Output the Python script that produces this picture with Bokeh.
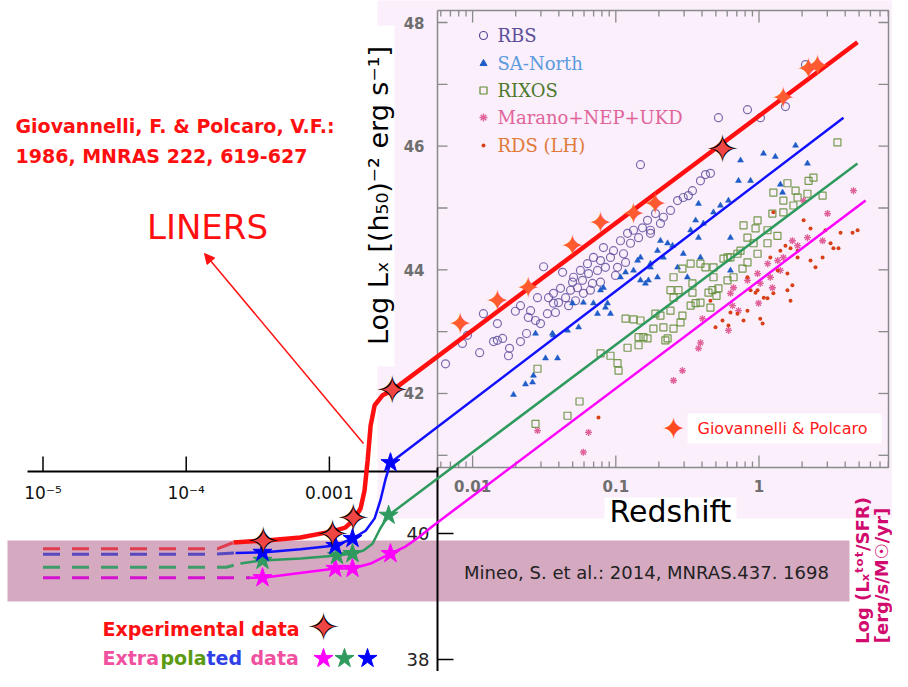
import math
from bokeh.plotting import figure
from bokeh.models import Range1d, Arrow, NormalHead
from bokeh.core.properties import value
from bokeh.embed import file_html
from bokeh.resources import INLINE

# ---------------- data (redshift, log Lx) ----------------
rbs_points = [
    (0.00647, 42.48), (0.00849, 42.81), (0.0112, 42.66), (0.0119, 43.29), (0.0149, 43.13),
    (0.0140, 42.84), (0.0162, 42.89), (0.0181, 42.73), (0.0178, 42.61), (0.0216, 43.42),
    (0.0199, 43.33), (0.0216, 42.84), (0.0238, 42.97), (0.0245, 43.23), (0.0254, 43.34),
    (0.0275, 43.18), (0.0284, 43.55), (0.0313, 44.05), (0.0298, 43.13), (0.0333, 43.29),
    (0.0339, 43.55), (0.0367, 43.62), (0.0367, 43.46), (0.0398, 43.47), (0.0411, 43.70),
    (0.0425, 43.96), (0.0446, 43.55), (0.0483, 43.67), (0.0499, 43.80), (0.0507, 43.88),
    (0.0540, 43.71), (0.0566, 43.99), (0.0585, 43.83), (0.0594, 43.62), (0.0634, 44.10),
    (0.0645, 43.94), (0.0687, 43.78), (0.0698, 44.20), (0.0745, 43.99), (0.0782, 44.15),
    (0.0820, 44.36), (0.0847, 44.04), (0.0918, 44.20), (0.0964, 44.31), (0.1028, 44.04),
    (0.1078, 44.47), (0.1132, 44.26), (0.1208, 44.59), (0.1267, 44.43), (0.1330, 44.64),
    (0.1442, 44.52), (0.1535, 44.68), (0.1665, 44.80), (0.1746, 44.59), (0.1892, 44.91),
    (0.0149, 42.86), (0.521, 46.46), (0.831, 46.59), (1.024, 46.46), (2.11, 47.32),
    (1.53, 46.64), (0.1487, 45.70), (0.390, 45.44), (0.423, 45.54), (0.343, 45.28),
    (0.296, 45.17), (0.270, 45.12), (0.241, 44.96), (0.215, 44.85), (0.205, 44.75),
    (0.458, 45.56), (0.321, 45.20), (0.1746, 44.64), (0.0379, 43.31), (0.0468, 43.42),
    (0.0523, 43.50), (0.0665, 43.67), (0.0782, 43.80), (0.0995, 43.91), (0.117, 44.12),
    (0.0092, 42.94),
]
sa_north_points = [
    (0.0193, 41.98), (0.0234, 42.15), (0.0262, 42.18), (0.0266, 42.29), (0.0323, 42.57),
    (0.0392, 42.57), (0.0361, 42.97), (0.0275, 42.97), (0.0367, 42.94), (0.0460, 43.02),
    (0.0499, 43.46), (0.0550, 43.07), (0.0698, 43.46), (0.0745, 43.29), (0.0820, 43.71),
    (0.0875, 43.46), (0.0918, 43.29), (0.1078, 43.88), (0.117, 43.96), (0.133, 43.99),
    (0.1487, 44.20), (0.169, 43.83), (0.1487, 43.83), (0.1955, 44.31), (0.230, 44.43),
    (0.1746, 44.10), (0.1955, 43.88), (0.161, 43.78), (0.205, 44.47), (0.215, 44.20),
    (0.249, 44.39), (0.270, 44.04), (0.296, 44.26), (0.316, 43.88), (0.333, 44.64),
    (0.361, 44.80), (0.378, 45.07), (0.390, 44.20), (0.378, 44.52), (0.409, 44.75),
    (0.481, 44.93), (0.538, 45.04), (0.612, 45.12), (0.632, 44.52), (0.632, 43.99),
    (0.743, 45.77), (0.873, 45.44), (1.075, 45.88), (1.30, 45.83), (1.46, 45.25),
    (1.80, 46.01), (2.18, 45.72), (1.41, 45.38), (0.719, 45.44), (0.0847, 43.39),
    (0.0594, 43.47), (0.0782, 43.67), (0.142, 44.15), (0.1746, 44.04),
]
rixos_points = [
    (0.0275, 41.51), (0.0460, 41.64), (0.0558, 41.87), (0.0284, 42.40), (0.0782, 42.65),
    (0.0918, 42.61), (0.1028, 42.49), (0.1045, 42.37), (0.1208, 42.74), (0.1442, 42.78),
    (0.117, 43.21), (0.133, 43.20), (0.1487, 43.18), (0.1442, 42.91), (0.1665, 42.89),
    (0.183, 43.05), (0.215, 43.07), (0.253, 43.05), (0.283, 43.15), (0.230, 42.89),
    (0.205, 43.26), (0.241, 43.34), (0.292, 43.26), (0.333, 43.42), (0.390, 43.47),
    (0.444, 43.63), (0.458, 43.39), (0.521, 43.70), (0.603, 43.83), (0.664, 43.88),
    (0.767, 44.02), (0.831, 44.12), (0.977, 44.26), (1.146, 44.43), (1.346, 44.55),
    (0.241, 43.67), (0.274, 43.67), (0.343, 43.63), (0.423, 44.04), (0.481, 43.88),
    (0.603, 44.20), (0.390, 44.10), (0.743, 44.31), (0.916, 44.43), (0.253, 43.88),
    (3.53, 46.06), (2.40, 45.49), (2.22, 45.44), (1.80, 45.28), (1.58, 45.40),
    (1.26, 45.25), (1.48, 45.12), (1.86, 45.17), (2.18, 45.23), (2.78, 45.20),
    (1.24, 44.91), (1.48, 44.93), (1.74, 45.04), (0.977, 44.80), (0.780, 44.72),
    (0.946, 44.67), (1.146, 44.64), (0.831, 44.52), (0.632, 44.20), (0.565, 44.18),
    (0.708, 44.26), (0.481, 44.04), (0.333, 44.10), (0.292, 44.02), (0.343, 43.78),
    (0.253, 43.55), (0.473, 43.67), (0.189, 43.29), (0.361, 43.46), (0.505, 43.58),
    (0.156, 42.91), (0.222, 42.86),
]
marano_points = [
    (4.57, 45.28), (3.01, 44.91), (2.78, 44.47), (2.05, 45.12), (1.71, 44.47),
    (1.86, 44.39), (1.48, 44.20), (1.35, 44.15), (1.15, 44.10), (0.977, 43.94),
    (0.831, 43.83), (1.41, 43.99), (1.20, 43.88), (1.02, 43.78), (0.664, 43.71),
    (0.632, 43.62), (2.18, 44.52), (1.24, 43.71), (0.993, 43.46), (0.653, 43.42),
    (0.719, 43.34), (0.612, 43.02), (0.390, 42.82), (0.378, 42.73), (0.403, 43.21),
    (0.292, 42.37), (0.253, 42.21), (0.0284, 41.40), (0.0645, 41.37), (0.0594, 41.05),
]
rds_points = [
    (4.88, 44.64), (3.71, 44.60), (3.16, 44.43), (3.59, 44.35), (2.91, 44.64),
    (2.29, 44.67), (2.05, 44.80), (1.26, 44.93), (1.53, 44.39), (1.66, 44.35),
    (1.86, 44.31), (1.41, 44.31), (1.20, 44.20), (1.35, 43.99), (1.58, 43.94),
    (2.48, 44.04), (0.831, 43.88), (0.977, 43.67), (1.08, 43.55), (1.26, 43.62),
    (1.71, 43.75), (1.58, 43.67), (1.66, 43.50), (0.946, 43.63), (1.146, 43.54),
    (0.831, 43.34), (0.708, 43.29), (0.632, 43.31), (0.556, 43.18), (0.497, 43.07),
    (0.612, 43.10), (0.780, 43.18), (1.02, 43.21), (1.06, 43.13), (0.458, 43.50),
    (0.0757, 41.61), (2.29, 44.15), (2.78, 44.20), (3.31, 44.35), (4.50, 44.60),
    (0.873, 43.67), (1.86, 44.20),
]
giovannelli_points = [
    (0.00822, 43.13), (0.01493, 43.50), (0.02449, 43.71), (0.04989, 44.39), (0.0782, 44.77),
    (0.133, 44.91), (0.189, 45.07), (1.48, 46.79), (2.22, 47.26), (2.56, 47.30),
]
experimental_points = [(3.45e-4, 39.62), (1.05e-3, 39.735), (1.47e-3, 39.98), (2.75e-3, 42.05), (0.556, 45.96)]
extrap_blue = [(3.41e-4, 39.43), (1.10e-3, 39.54), (1.45e-3, 39.655), (2.67e-3, 40.88)]
extrap_green = [(3.41e-4, 39.30), (1.13e-3, 39.38), (1.45e-3, 39.41), (2.59e-3, 40.03)]
extrap_magenta = [(3.41e-4, 39.02), (1.10e-3, 39.17), (1.45e-3, 39.17), (2.67e-3, 39.41)]

red_curve = [(2.14e-4, 39.59), (3.45e-4, 39.62), (6.28e-4, 39.67), (1.05e-3, 39.77), (1.29e-3, 39.83),
             (1.47e-3, 39.95), (1.65e-3, 40.14), (1.76e-3, 40.43), (1.85e-3, 40.92), (1.94e-3, 41.48),
             (2.07e-3, 41.81), (2.35e-3, 41.97), (2.75e-3, 42.05), (4.87, 47.68)]
blue_curve = [(2.21e-4, 39.42), (3.41e-4, 39.43), (6.28e-4, 39.48), (1.10e-3, 39.54), (1.45e-3, 39.655),
              (1.79e-3, 39.78), (2.07e-3, 39.98), (2.27e-3, 40.27), (2.47e-3, 40.62), (2.67e-3, 40.88),
              (3.89, 46.46)]
green_curve = [(2.39e-4, 39.25), (3.41e-4, 39.30), (6.28e-4, 39.33), (1.13e-3, 39.38), (1.45e-3, 39.41),
               (1.73e-3, 39.46), (2.00e-3, 39.57), (2.27e-3, 39.82), (2.59e-3, 40.03), (4.87, 45.72)]
magenta_curve = [(2.81e-4, 39.02), (3.41e-4, 39.02), (1.10e-3, 39.17), (1.45e-3, 39.17), (1.94e-3, 39.25),
                 (2.67e-3, 39.41), (3.40e-3, 39.525), (4.19e-3, 39.67), (5.33e-3, 39.865), (5.55, 45.12)]
red_dash = [(1.0e-5, 39.49), (1.66e-4, 39.49), (2.14e-4, 39.59)]
blue_dash = [(1.0e-5, 39.40), (1.59e-4, 39.40), (2.21e-4, 39.42)]
green_dash = [(1.0e-5, 39.19), (1.9e-4, 39.19), (2.39e-4, 39.25)]
magenta_dash = [(1.0e-5, 39.02), (2.81e-4, 39.02)]

upper_y_ticks = [48, 46, 44, 42]
upper_x_ticks = [0.01, 0.1, 1]
upper_x_labels = ["0.01", "0.1", "1"]
lower_x_ticks = [1e-5, 1e-4, 1e-3]
lower_x_labels = ["10\u207b\u2075", "10\u207b\u2074", "0.001"]
lower_y_ticks = [40, 38]

# ---------------- geometry helpers (reference pixel -> data) ----------------
W, H = 892, 671
PX_Z1, PX_PER_DEC = 758.5, 143.2
PY_48, PY_PER_UNIT = 22.0, 61.83


def X(px):
    return 10 ** ((px - PX_Z1) / PX_PER_DEC)


def Y(py):
    return 48.0 - (py - PY_48) / PY_PER_UNIT


Y40, Y38 = Y(533), Y(659)


def Ylow(v):
    return Y40 + (v - 40) * (Y40 - Y38) / 2.0


def xs(pts):
    return [a for a, b in pts]


def ys(pts):
    return [b for a, b in pts]


p = figure(width=W, height=H, x_axis_type="log",
           x_range=Range1d(X(0), X(W)), y_range=Range1d(Y(H), Y(0)),
           x_axis_location=None, y_axis_location=None, toolbar_location=None,
           output_backend="svg", min_border=0, outline_line_color=None,
           background_fill_color="white", border_fill_color="white")
p.grid.visible = False


def box(x0, x1, y0, y1, color):
    p.quad(left=X(x0), right=X(x1), top=Y(y0), bottom=Y(y1), fill_color=color, line_color=None)


def label(px, py, s, size, color, align="left", bold=False, font="DejaVu Sans", angle=0.0, alpha=1.0):
    p.text(x=[X(px)], y=[Y(py)], text=[s], text_font=value(font), text_font_size=f"{size}px",
           text_color=color, text_align=align, text_baseline="middle",
           text_font_style="bold" if bold else "normal", angle=angle, text_alpha=alpha)


# backgrounds
box(377, 905, -10, 518, "#faeffa")
box(363, 394, 25, 366, "white")
box(7, 849, 540, 601, "#d5a9c0")
box(604, 736, 497, 525, "white")
box(687, 881, 413, 443, "white")

# upper (scanned) frame with ticks
fx0, fx1, fy0, fy1 = X(437), X(888), Y(467), Y(10)
GRAY = "#8a8a8a"
p.multi_line([[fx0, fx1, fx1, fx0, fx0]], [[fy1, fy1, fy0, fy0, fy1]], line_color=GRAY, line_width=1.5)
minor_x = [k * 10 ** d for d in (-3, -2, -1, 0) for k in range(2, 10) if fx0 < k * 10 ** d < fx1]
for vals, ln in ((minor_x, 6), (upper_x_ticks, 12)):
    dy = ln / PY_PER_UNIT
    p.segment(x0=vals, y0=[fy1] * len(vals), x1=vals, y1=[fy1 - dy] * len(vals), line_color=GRAY, line_width=1.3)
    p.segment(x0=vals, y0=[fy0] * len(vals), x1=vals, y1=[fy0 + dy] * len(vals), line_color=GRAY, line_width=1.3)
y_int = list(range(41, 49))
kx = 10 ** (10 / PX_PER_DEC)
p.segment(x0=[fx0] * len(y_int), y0=y_int, x1=[fx0 * kx] * len(y_int), y1=y_int, line_color=GRAY, line_width=1.3)
p.segment(x0=[fx1] * len(y_int), y0=y_int, x1=[fx1 / kx] * len(y_int), y1=y_int, line_color=GRAY, line_width=1.3)
p.text(x=[X(424)] * 4, y=upper_y_ticks, text=[str(v) for v in upper_y_ticks], text_font=value("DejaVu Sans"),
       text_font_size="15px", text_font_style="bold", text_color="#6e6e6e", text_align="right", text_baseline="middle")
p.text(x=upper_x_ticks, y=[Y(485)] * 3, text=upper_x_labels, text_font=value("DejaVu Sans"),
       text_font_size="15px", text_font_style="bold", text_color="#6e6e6e", text_align="center", text_baseline="middle")

# lower (hand drawn) axes
AX = "black"
p.line([X(27), X(437)], [Y(471), Y(471)], line_color=AX, line_width=2)
p.line([X(437), X(437)], [Y(467), Y(700)], line_color=AX, line_width=2)
p.segment(x0=lower_x_ticks, y0=[Y(471)] * 3, x1=lower_x_ticks, y1=[Y(456)] * 3, line_color=AX, line_width=1.5)
ly = [Ylow(v) for v in lower_y_ticks]
p.segment(x0=[X(437)] * 2, y0=ly, x1=[X(453)] * 2, y1=ly, line_color=AX, line_width=1.5)
p.text(x=lower_x_ticks, y=[Y(492)] * 3, text=lower_x_labels, text_font=value("DejaVu Sans"),
       text_font_size="17px", text_color="#111111", text_align="center", text_baseline="middle")
p.text(x=[X(429)] * 2, y=ly, text=[str(v) for v in lower_y_ticks], text_font=value("DejaVu Sans"),
       text_font_size="18px", text_color="#222222", text_align="right", text_baseline="middle")

# scatter samples
p.scatter(xs(rbs_points), ys(rbs_points), marker="circle", size=8, fill_color=None,
          line_color="#5a4a9c", line_alpha=0.8, line_width=1.2)
p.scatter(xs(sa_north_points), ys(sa_north_points), marker="triangle", size=6,
          fill_color="#1f5cc8", line_color="#1f5cc8", line_width=0.5)
p.scatter(xs(rixos_points), ys(rixos_points), marker="square", size=7, fill_color=None,
          line_color="#5e8c32", line_alpha=0.85, line_width=1.2)
p.scatter(xs(marano_points), ys(marano_points), marker="asterisk", size=7,
          line_color="#e0609a", line_width=1.3)
p.scatter(xs(rds_points), ys(rds_points), marker="circle", size=4,
          fill_color="#d8401a", line_color=None)

# dashed extrapolations
for pts, col in ((red_dash, "#e03040"), (blue_dash, "#4a3ec0"), (green_dash, "#2e9a5e"), (magenta_dash, "#d400d4")):
    p.line(xs(pts), ys(pts), line_color=col, line_width=3, line_dash="17 12", line_alpha=0.9)

# model curves
p.line(xs(magenta_curve), ys(magenta_curve), line_color="#ff00ff", line_width=2.5)
p.line(xs(green_curve), ys(green_curve), line_color="#2e9a5e", line_width=2.5)
p.line(xs(blue_curve), ys(blue_curve), line_color="#1010ff", line_width=2.5)
p.line(xs(red_curve), ys(red_curve), line_color="#ff1010", line_width=4.5)

# stars
STAR4 = "\u2726"
p.text(x=xs(giovannelli_points), y=ys(giovannelli_points), text=[STAR4] * len(giovannelli_points),
       text_font=value("DejaVu Sans"), text_font_size="30px", text_color="#ff5a30",
       text_align="center", text_baseline="middle")
for pts, col in ((extrap_magenta, "#ff00ff"), (extrap_green, "#2e9a5e"), (extrap_blue, "#0000ff")):
    p.scatter(xs(pts), ys(pts), marker="star", size=20, fill_color=col, line_color=col)
p.text(x=xs(experimental_points), y=ys(experimental_points), text=[STAR4] * len(experimental_points),
       text_font=value("DejaVu Sans"), text_font_size="40px", text_color="black",
       text_align="center", text_baseline="middle")
p.text(x=xs(experimental_points), y=ys(experimental_points), text=[STAR4] * len(experimental_points),
       text_font=value("DejaVu Sans"), text_font_size="31px", text_color="#f04545",
       text_align="center", text_baseline="middle")

# legend inside the scanned plot
leg = [("RBS", "#5d4d9a"), ("SA-North", "#5a9ae0"), ("RIXOS", "#4f7a2e"), ("Marano+NEP+UKD", "#e0649a"), ("RDS (LH)", "#e07a3a")]
leg_py = [35, 63, 90, 117, 145]
p.scatter([X(483)], [Y(leg_py[0])], marker="circle", size=8, fill_color=None, line_color="#5a4a9c", line_width=1.2)
p.scatter([X(483)], [Y(leg_py[1])], marker="triangle", size=7, fill_color="#1f5cc8", line_color="#1f5cc8")
p.scatter([X(483)], [Y(leg_py[2])], marker="square", size=7, fill_color=None, line_color="#5e8c32", line_width=1.2)
p.scatter([X(483)], [Y(leg_py[3])], marker="asterisk", size=8, line_color="#e0609a", line_width=1.3)
p.scatter([X(483)], [Y(leg_py[4])], marker="circle", size=4, fill_color="#d8401a", line_color=None)
for (s, c), py in zip(leg, leg_py):
    label(497, py, s, 18, c, font="DejaVu Serif")

# annotations / titles
label(378, 195, "Log L\u2093 [(h\u2085\u2080)\u207b\u00b2 erg s\u207b\u00b9]", 27, "black", align="center", angle=math.pi / 2)
label(670, 511, "Redshift", 30, "black", align="center")
label(673, 428, STAR4, 30, "#ff4a20", align="center")
label(697, 428, "Giovannelli & Polcaro", 16, "#ff1a1a")
label(646, 572, "Mineo, S. et al.: 2014, MNRAS.437. 1698", 18, "#222222", align="center")
label(862, 570, "Log (L\u2093\u1d57\u1d52\u1d57/SFR)", 18, "#d10a6e", align="center", bold=True, angle=math.pi / 2)
label(881, 575, "[erg/s/M\u2609/yr]", 18, "#d10a6e", align="center", bold=True, angle=math.pi / 2)
label(15, 125, "Giovannelli, F. & Polcaro, V.F.:", 19, "#ff1010", bold=True)
label(15, 155, "1986, MNRAS 222, 619-627", 19, "#ff1010", bold=True)
label(207, 226, "LINERS", 34, "#ff1010", align="center")
label(102, 628, "Experimental data", 19, "#ff1010", bold=True)
label(323, 626, STAR4, 40, "black", align="center")
label(323, 626, STAR4, 31, "#f04545", align="center")
for s, c, px in (("Extra", "#f050a0", 102), ("pola", "#5a9a10", 160), ("ted", "#3040e8", 206), ("data", "#f050a0", 250)):
    label(px, 657, s, 19, c, bold=True)
for col, px in (("#ff00ff", 323), ("#2e9a5e", 344), ("#0000ff", 367)):
    p.scatter([X(px)], [Y(658)], marker="star", size=20, fill_color=col, line_color=col)

p.add_layout(Arrow(end=NormalHead(size=10, fill_color="#ff1010", line_color="#ff1010"),
                   x_start=X(363), y_start=Y(443), x_end=X(204), y_end=Y(253),
                   line_color="#ff1010", line_width=1.5))

open("out.html", "w").write(file_html(p, INLINE))
